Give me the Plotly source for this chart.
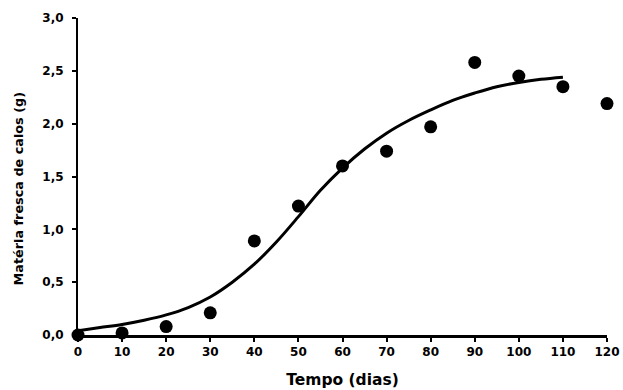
import plotly.graph_objects as go

days = [0, 10, 20, 30, 40, 50, 60, 70, 80, 90, 100, 110, 120]
mass = [0.0, 0.02, 0.08, 0.21, 0.89, 1.22, 1.60, 1.74, 1.97, 2.58, 2.45, 2.35, 2.19]

curve_x = [0, 5, 10, 15, 20, 25, 30, 35, 40, 45, 50, 55, 60, 65, 70, 75, 80, 85, 90, 95, 100, 105, 110]
curve_y = [0.04, 0.07, 0.10, 0.14, 0.19, 0.26, 0.36, 0.50, 0.67, 0.88, 1.12, 1.37, 1.58, 1.76, 1.91, 2.03, 2.13, 2.22, 2.29, 2.35, 2.39, 2.42, 2.44]

y_ticks = [0, 0.5, 1.0, 1.5, 2.0, 2.5, 3.0]
y_labels = ["0,0", "0,5", "1,0", "1,5", "2,0", "2,5", "3,0"]
x_ticks = [0, 10, 20, 30, 40, 50, 60, 70, 80, 90, 100, 110, 120]

font = "DejaVu Sans"

fig = go.Figure()
fig.add_trace(go.Scatter(x=curve_x, y=curve_y, mode="lines",
                         line=dict(color="black", width=3, shape="spline"),
                         showlegend=False, cliponaxis=False))
fig.add_trace(go.Scatter(x=days, y=mass, mode="markers",
                         marker=dict(color="black", size=13),
                         showlegend=False, cliponaxis=False))

fig.update_layout(
    width=623, height=390,
    margin=dict(l=78, r=16, t=18, b=55, autoexpand=False),
    paper_bgcolor="white", plot_bgcolor="white",
    font=dict(family=font, color="black"),
    xaxis=dict(range=[0, 120], tickvals=x_ticks, ticks="outside", ticklen=4,
               tickwidth=1.5, tickcolor="black", showline=True, linecolor="black",
               linewidth=2.5, showgrid=False, zeroline=False, automargin=False,
               ticklabeloverflow="allow",
               tickfont=dict(size=12, family=font, weight="bold"),
               title=dict(text="<b>Tempo (dias)</b>", font=dict(size=15.5, family=font),
                          standoff=16)),
    yaxis=dict(range=[0, 3], tickvals=y_ticks, ticktext=y_labels, ticks="outside",
               ticklen=4, tickwidth=1.5, tickcolor="black", showline=True,
               linecolor="black", linewidth=2, showgrid=False, zeroline=False,
               automargin=False, ticklabelstandoff=6,
               tickfont=dict(size=12, family=font, weight="bold")),
    annotations=[dict(text="<b>Matéria fresca de calos (g)</b>", textangle=-90,
                      xref="paper", yref="paper", x=-0.113, y=0.46,
                      xanchor="center", yanchor="middle", showarrow=False,
                      font=dict(size=12.8, family=font, color="black"))],
)

fig.write_html("out.html")
